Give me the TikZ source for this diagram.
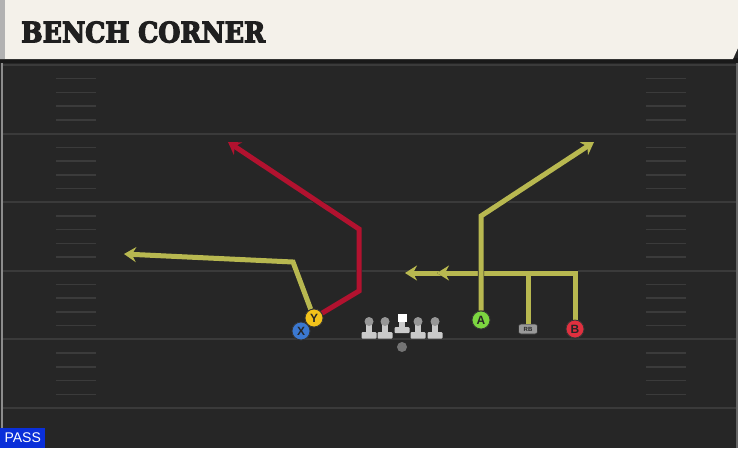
\documentclass[tikz,border=0pt]{standalone}
\usepackage{fontspec}
\setmainfont{Liberation Sans}
\newfontfamily\titlefont{DejaVu Serif Condensed}[BoldFeatures={FakeBold=4}]
\usetikzlibrary{arrows.meta}
\definecolor{fieldbg}{HTML}{262626}
\definecolor{yardline}{HTML}{3A3A3A}
\definecolor{hashc}{HTML}{3B3B3B}
\definecolor{headerc}{HTML}{F4F1EA}
\definecolor{routey}{HTML}{B8B850}
\definecolor{router}{HTML}{B2122F}
\definecolor{playery}{HTML}{F2C21B}
\definecolor{playerx}{HTML}{3B78D0}
\definecolor{playera}{HTML}{7CD640}
\definecolor{playerb}{HTML}{E0303F}
\definecolor{linec}{HTML}{CACACA}
\definecolor{passblue}{HTML}{0A2FD9}
\tikzset{
  route/.style={line width=5pt, line join=miter, draw=#1,
    -{Stealth[length=12pt,width=15pt,inset=4pt]},
    preaction={draw=black!85, line width=6.4pt}},
  player/.style={circle, minimum size=18pt, inner sep=0pt, draw=black!80,
    line width=0.8pt, font=\bfseries\fontsize{12}{12}\selectfont, text=black!85},
  lineman/.style={fill=linec, draw=none},
}
\begin{document}
\begin{tikzpicture}[x=1pt,y=-1pt]
\useasboundingbox (0,0) rectangle (738,448);
% field
\fill[fieldbg] (0,0) rectangle (738,448);
\draw[black!45, line width=2pt] (1.5,60) -- (1.5,428);
\draw[black!60, line width=1.5pt] (737,60) -- (737,448);
% yard lines
\foreach \k in {0,...,5} {
  \draw[yardline, line width=2pt] (3,65+68.6*\k) -- (736,65+68.6*\k);
}
% hash marks
\foreach \j in {1,...,24} {
  \pgfmathtruncatemacro\m{mod(\j,5)}
  \ifnum\m=0\else
    \draw[hashc, line width=1.5pt] (56,65+13.72*\j) -- (96,65+13.72*\j);
    \draw[hashc, line width=1.5pt] (646,65+13.72*\j) -- (686,65+13.72*\j);
  \fi
}
% header
\fill[black!90] (0,58) rectangle (738,63);
\fill[headerc] (0,0) -- (738,0) -- (738,48) -- (733,59) -- (0,59) -- cycle;
\fill[black!30] (0,0) rectangle (5,59);
\node[anchor=south west, inner sep=0pt, text=black!88] (title) at (21,43)
  {\resizebox{244pt}{21pt}{\titlefont\bfseries BENCH CORNER}};
% PASS label
\node[anchor=south west, fill=passblue, text=white, inner sep=0pt,
  minimum width=45pt, minimum height=20pt,
  font=\fontsize{14}{14}\selectfont] (pass) at (0,448) {PASS};
% linemen
\foreach \x in {369,385,418,435} {
  \fill[lineman, rounded corners=1pt] (\x-7.5,332) rectangle (\x+7.5,338.5);
  \fill[lineman] (\x-3.2,322) rectangle (\x+3.2,333);
  \fill[linec!75!black] (\x,321.5) circle (4.5pt);
}
\fill[lineman, rounded corners=1pt] (402-7.5,327) rectangle (402+7.5,333);
\fill[lineman] (402-3.2,321) rectangle (402+3.2,328);
\fill[white] (397.5,313.5) rectangle (406.5,322);
\node[circle, fill=black!55, minimum size=10pt, inner sep=0pt] (qb) at (402,347) {};
% players
\node[player, fill=playerx] (X) at (301,331) {X};
\node[player, fill=playery] (Y) at (314,318) {Y};
\node[player, fill=playera] (A) at (481,320) {A};
\node[player, fill=playerb] (B) at (575,329) {B};
\node[draw=black!80, line width=0.6pt, fill=black!40, rounded corners=2.5pt,
  minimum width=19pt, minimum height=10pt, inner sep=0pt,
  font=\bfseries\fontsize{6}{6}\selectfont, text=black!85] (RB) at (528,329) {RB};
% route end points
\coordinate (yc) at (293,262);
\coordinate (ye) at (124,254);
\coordinate (r1) at (359,291);
\coordinate (r2) at (359,229);
\coordinate (re) at (228,142);
\coordinate (ac) at (481,216);
\coordinate (ae) at (594,142);
\coordinate (bc) at (575,273);
\coordinate (be) at (405,273);
\coordinate (rbc) at (528,273);
\coordinate (rbe) at (437,273);
% routes
\draw[route=router] (Y) -- (r1) -- (r2) -- (re);
\draw[route=routey] (Y) -- (yc) -- (ye);
\draw[route=routey] (B) -- (bc) -- (be);
\draw[route=routey] (RB) -- (rbc) -- (rbe);
\draw[route=routey] (A) -- (ac) -- (ae);
% redraw players on top
\node[player, fill=playerx] at (301,331) {X};
\node[player, fill=playery] at (314,318) {Y};
\node[player, fill=playera] at (481,320) {A};
\node[player, fill=playerb] at (575,329) {B};
\end{tikzpicture}
\end{document}
